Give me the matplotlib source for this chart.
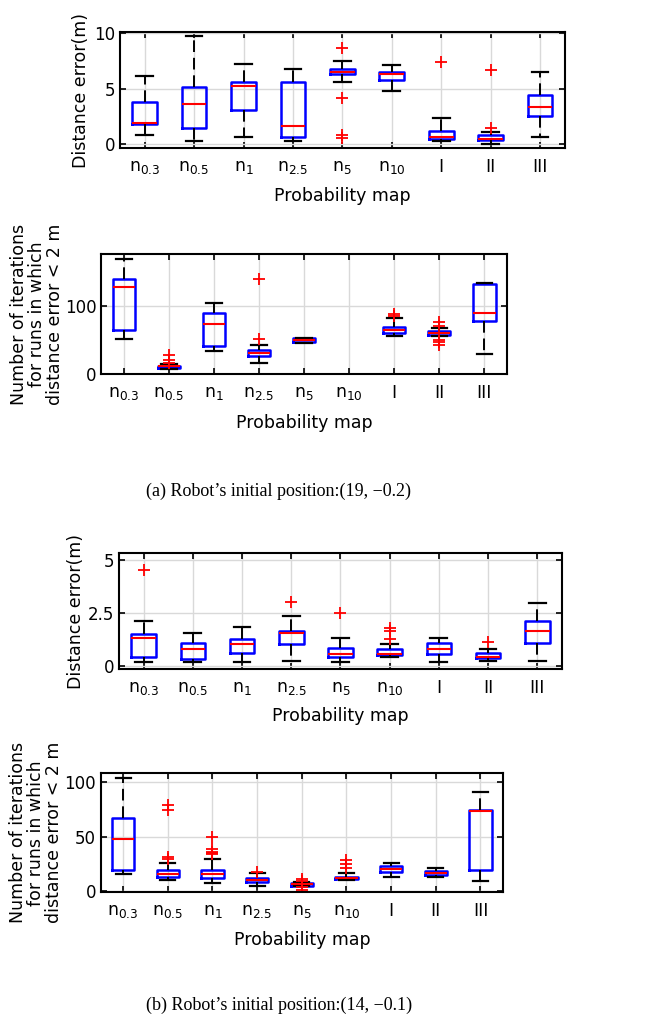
import matplotlib
matplotlib.use("Agg")
import matplotlib.pyplot as plt

plt.rcParams['font.family'] = ['DejaVu Sans']
plt.rcParams['mathtext.fontset'] = 'dejavusans'

labels = [r'n$_{0.3}$', r'n$_{0.5}$', r'n$_{1}$', r'n$_{2.5}$', r'n$_{5}$',
          r'n$_{10}$', 'I', 'II', 'III']

# (a) distance error
a_err_med = [1.85, 3.6, 5.2, 1.63, 6.48, 6.33, 0.66, 0.42, 3.31]
a_err_q1 = [1.8, 1.45, 3.07, 0.66, 6.33, 5.78, 0.42, 0.36, 2.53]
a_err_q3 = [3.77, 5.18, 5.63, 5.57, 6.78, 6.54, 1.2, 0.81, 4.4]
a_err_lo = [0.81, 0.3, 0.66, 0.24, 5.57, 4.82, 0.3, 0.0, 0.66]
a_err_hi = [6.17, 9.8, 7.2, 6.78, 7.53, 7.1, 2.38, 1.1, 6.48]
a_err_out = [[], [], [], [], [8.67, 4.19, 0.84, 0.57], [], [7.44], [1.48, 6.66], []]

# (a) iterations (n10 has no runs)
a_it_pos = [1, 2, 3, 4, 5, 7, 8, 9]
a_it_med = [127.6, 10.8, 74, 30, 49.3, 64, 60.1, 89.7]
a_it_q1 = [64, 8.9, 41.4, 25.6, 46.8, 59.6, 57.1, 77.8]
a_it_q3 = [139.4, 11.8, 89, 34.5, 52.2, 69, 62.6, 132]
a_it_lo = [50.7, 6.4, 33.5, 15.3, 45.3, 55.2, 55.2, 28.6]
a_it_hi = [168.5, 14.8, 105, 41.9, 53.2, 82.3, 68, 133.5]
a_it_out = [[], [27, 20.7, 16.3], [], [139, 50.7], [], [88.7, 84.7],
            [76.4, 70, 49.3, 46.3, 43], []]

# (b) distance error
b_err_med = [1.29, 0.79, 1.04, 1.55, 0.57, 0.57, 0.78, 0.43, 1.65]
b_err_q1 = [0.42, 0.31, 0.62, 1.02, 0.42, 0.51, 0.56, 0.36, 1.07]
b_err_q3 = [1.52, 1.1, 1.26, 1.66, 0.82, 0.79, 1.07, 0.61, 2.11]
b_err_lo = [0.17, 0.17, 0.2, 0.22, 0.2, 0.4, 0.2, 0.22, 0.25]
b_err_hi = [2.11, 1.54, 1.85, 2.33, 1.29, 1.02, 1.29, 0.79, 2.97]
b_err_out = [[4.52], [], [], [3.03], [2.47], [1.79, 1.63, 1.27], [], [1.12], []]

# (b) iterations
b_it_med = [47.4, 15.9, 15.3, 9.8, 6.1, 11.9, 19.9, 16.8, 73.4]
b_it_q1 = [19, 12.8, 11.6, 8, 4.9, 10.7, 17.5, 15, 19]
b_it_q3 = [67.3, 19, 19, 11.9, 7.3, 13.1, 22.5, 18.3, 74]
b_it_lo = [15.3, 9.8, 7.3, 4.6, 4.3, 9.8, 12.8, 12.8, 8.9]
b_it_hi = [103.7, 26, 29.4, 16.8, 8, 16.5, 25.5, 21.1, 90.8]
b_it_out = [[], [79.3, 74, 31, 29.5], [50, 38.2, 36, 35, 34.3], [17.5],
            [11, 9.5, 3.5, 1], [28, 24.5, 21], [], [], []]


def stats(med, q1, q3, lo, hi, out):
    return [dict(med=m, q1=a, q3=b, whislo=c, whishi=d, fliers=f)
            for m, a, b, c, d, f in zip(med, q1, q3, lo, hi, out)]


def draw(ax, st, pos, ylim, yticks, ytl, ylabel, ylab_x):
    ax.bxp(st, positions=pos, widths=0.5, showfliers=True, capwidths=0.34,
           boxprops=dict(color='blue', linewidth=1.8),
           medianprops=dict(color='red', linewidth=1.5),
           whiskerprops=dict(color='black', linewidth=1.4, linestyle=(0, (6, 3))),
           capprops=dict(color='black', linewidth=1.6),
           flierprops=dict(marker='+', markeredgecolor='red', markersize=9,
                           markeredgewidth=1.3, linestyle='none'))
    ax.set_xlim(0.5, 9.5)
    ax.set_ylim(*ylim)
    ax.set_xticks(range(1, 10))
    ax.set_xticklabels(labels)
    ax.set_yticks(yticks)
    ax.set_yticklabels(ytl)
    ax.grid(True, color='0.85', linewidth=1)
    ax.set_axisbelow(True)
    ax.tick_params(direction='in', top=True, right=True, labelsize=12.5,
                   length=4, width=1.2)
    ax.tick_params(axis='y', labelsize=12)
    ax.tick_params(axis='x', pad=7)
    for s in ax.spines.values():
        s.set_linewidth(1.5)
    ax.set_ylabel(ylabel, fontsize=12.5, linespacing=1.0)
    ax.yaxis.set_label_coords(ylab_x, 0.5)
    ax.set_xlabel('Probability map', fontsize=12.5)


fig = plt.figure(figsize=(6.59, 10.23), dpi=100)
it_label = 'Number of iterations\nfor runs in which\ndistance error < 2 m'

ax1 = fig.add_axes([0.182, 0.855, 0.675, 0.1134])
draw(ax1, stats(a_err_med, a_err_q1, a_err_q3, a_err_lo, a_err_hi, a_err_out),
     list(range(1, 10)), (-0.4, 10.1), [0, 5, 10], ['0', '5', '10'],
     'Distance error(m)', -0.068)
ax1.xaxis.set_label_coords(0.5, -0.33)

ax2 = fig.add_axes([0.154, 0.634, 0.615, 0.118])
draw(ax2, stats(a_it_med, a_it_q1, a_it_q3, a_it_lo, a_it_hi, a_it_out),
     a_it_pos, (-1, 177), [0, 100], ['0', '100'], it_label, -0.092)
ax2.xaxis.set_label_coords(0.5, -0.33)

ax3 = fig.add_axes([0.1806, 0.346, 0.672, 0.113])
draw(ax3, stats(b_err_med, b_err_q1, b_err_q3, b_err_lo, b_err_hi, b_err_out),
     list(range(1, 10)), (-0.15, 5.3), [0, 2.5, 5], ['0', '2.5', '5'],
     'Distance error(m)', -0.077)
ax3.xaxis.set_label_coords(0.5, -0.33)

ax4 = fig.add_axes([0.153, 0.128, 0.61, 0.116])
draw(ax4, stats(b_it_med, b_it_q1, b_it_q3, b_it_lo, b_it_hi, b_it_out),
     list(range(1, 10)), (-1, 108), [0, 50, 100], ['0', '50', '100'],
     it_label, -0.093)
ax4.xaxis.set_label_coords(0.5, -0.33)

fig.text(0.423, 0.52, '(a) Robot\u2019s initial position:(19, \u22120.2)',
         ha='center', va='center', fontsize=13, family='Liberation Serif')
fig.text(0.423, 0.0176, '(b) Robot\u2019s initial position:(14, \u22120.1)',
         ha='center', va='center', fontsize=13, family='Liberation Serif')

fig.savefig('out.png', dpi=100)
